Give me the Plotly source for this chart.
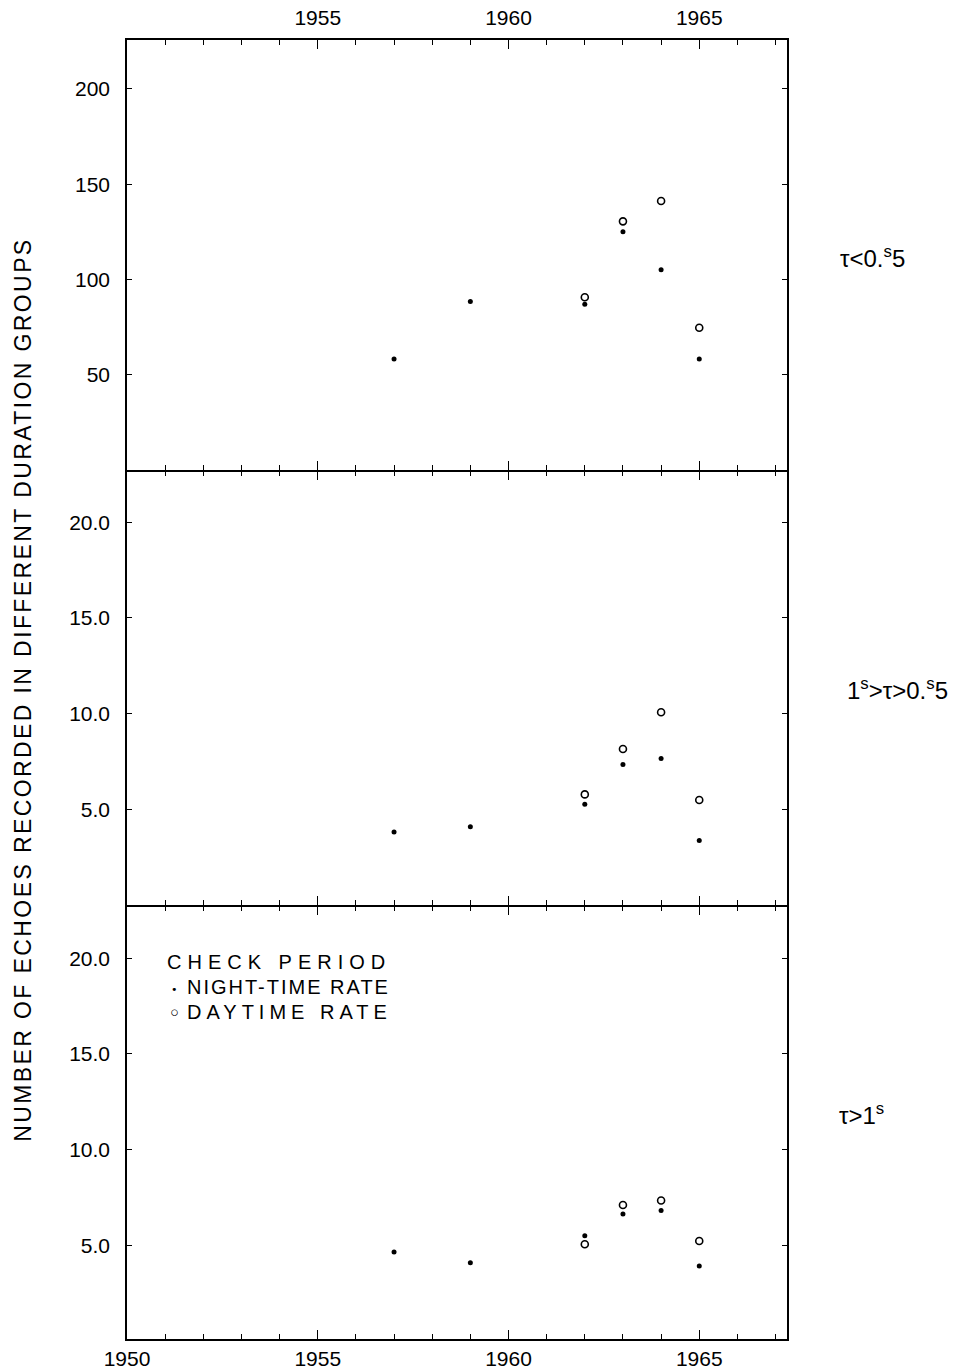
import plotly.graph_objects as go

# ---------------- data ----------------
night_years = [1957, 1959, 1962, 1963, 1964, 1965]
day_years = [1962, 1963, 1964, 1965]

short_night = [58.2, 88.4, 87.0, 125.1, 105.1, 58.2]      # tau < 0.5 s
short_day = [90.7, 130.5, 141.2, 74.7]
mid_night = [3.81, 4.09, 5.26, 7.34, 7.65, 3.37]          # 1 s > tau > 0.5 s
mid_day = [5.78, 8.15, 10.07, 5.49]
long_night = [4.65, 4.08, 5.50, 6.63, 6.81, 3.91]         # tau > 1 s
long_day = [5.05, 7.10, 7.34, 5.22]

year_major = [1950, 1955, 1960, 1965]
year_minor = [y for y in range(1951, 1968) if y % 5 != 0]
top_ticks = [50, 100, 150, 200]
top_tick_text = ["50", "100", "150", "200"]
low_ticks = [5, 10, 15, 20]
low_tick_text = ["5.0", "10.0", "15.0", "20.0"]

panel_labels = ["τ<0.<sup>s</sup>5", "1<sup>s</sup>>τ>0.<sup>s</sup>5", "τ>1<sup>s</sup>"]
y_title = "NUMBER OF ECHOES RECORDED IN DIFFERENT DURATION GROUPS"
legend_title = "CHECK PERIOD"
legend_night = "NIGHT-TIME RATE"
legend_day = "DAYTIME RATE"

# ---------------- layout geometry ----------------
W, H = 963, 1371
L, R, T, B = 127, 787, 40, 1339
PW, PH = R - L, B - T
LW = 1.5


def px(x):
    return (x - L) / PW


def py(y):
    return (B - y) / PH


FONT = "Liberation Sans, Arial, sans-serif"

fig = go.Figure()

panels = [
    (short_night, short_day, "x", "y"),
    (mid_night, mid_day, "x2", "y2"),
    (long_night, long_day, "x3", "y3"),
]
for nv, dv, xa, ya in panels:
    fig.add_trace(go.Scatter(x=night_years, y=nv, mode="markers", xaxis=xa, yaxis=ya,
                             marker=dict(symbol="circle", size=5, color="black"),
                             showlegend=False, name="Night-time rate"))
    fig.add_trace(go.Scatter(x=day_years, y=dv, mode="markers", xaxis=xa, yaxis=ya,
                             marker=dict(symbol="circle-open", size=7, color="black",
                                         line=dict(width=1.6, color="black")),
                             showlegend=False, name="Daytime rate"))

xrange_ = [1950, 1967.3]
tickfont = dict(family=FONT, size=21, color="black")


def xaxis(domain_anchor, side, labels, ticktext, standoff):
    return dict(
        range=xrange_, anchor=domain_anchor, side=side, domain=[0, 1],
        showline=True, linecolor="black", linewidth=LW, mirror="ticks",
        ticks="inside", ticklen=9, tickwidth=1.3, tickcolor="black",
        tickmode="array", tickvals=year_major, ticktext=ticktext,
        showticklabels=labels, tickfont=tickfont, ticklabelstandoff=standoff,
        minor=dict(tickmode="array", tickvals=year_minor, ticks="inside",
                   ticklen=5, tickwidth=1.2, tickcolor="black"),
        showgrid=False, zeroline=False, automargin=False,
    )


def yaxis(domain, rng, vals, text, anchor):
    return dict(
        domain=domain, range=rng, anchor=anchor,
        showline=True, linecolor="black", linewidth=LW, mirror="ticks",
        ticks="inside", ticklen=5, tickwidth=1.3, tickcolor="black",
        tickmode="array", tickvals=vals, ticktext=text,
        tickfont=tickfont, ticklabelstandoff=11,
        showgrid=False, zeroline=False, automargin=False,
    )


b1, b2 = 470, 905
fig.update_layout(
    width=W, height=H,
    margin=dict(l=L, r=W - R, t=T, b=H - B, pad=0, autoexpand=False),
    paper_bgcolor="white", plot_bgcolor="white",
    xaxis=xaxis("y", "top", True, ["", "1955", "1960", "1965"], 5),
    xaxis2=xaxis("y2", "bottom", False, ["1950", "1955", "1960", "1965"], 0),
    xaxis3=xaxis("y3", "bottom", True, ["1950", "1955", "1960", "1965"], 0),
    yaxis=yaxis([py(b1), 1], [0, 225.7], top_ticks, top_tick_text, "x"),
    yaxis2=yaxis([py(b2), py(b1 + LW)], [0, 22.65], low_ticks, low_tick_text, "x2"),
    yaxis3=yaxis([0, py(b2 + LW)], [0.1, 22.7], low_ticks, low_tick_text, "x3"),
    showlegend=False,
)

ann = []
# vertical axis title
ann.append(dict(text=y_title, x=px(23), y=py(690), xref="paper", yref="paper",
                textangle=-90, showarrow=False, xanchor="center", yanchor="middle",
                font=dict(family=FONT, size=23, color="black")))
# panel labels on the right
for lab, (cx, cy) in zip(panel_labels, [(872, 257), (897, 689), (861, 1114)]):
    ann.append(dict(text=lab, x=px(cx), y=py(cy), xref="paper", yref="paper",
                    showarrow=False, xanchor="center", yanchor="middle",
                    font=dict(family=FONT, size=24, color="black")))
# legend block
lf = dict(family=FONT, size=20, color="black")
ann.append(dict(text=legend_title, x=px(165), y=py(962), xref="paper", yref="paper",
                showarrow=False, xanchor="left", yanchor="middle", align="left", font=lf))
ann.append(dict(text=legend_night, x=px(185), y=py(987), xref="paper", yref="paper",
                showarrow=False, xanchor="left", yanchor="middle", align="left", font=lf))
ann.append(dict(text=legend_day, x=px(185), y=py(1012), xref="paper", yref="paper",
                showarrow=False, xanchor="left", yanchor="middle", align="left", font=lf))
ann.append(dict(text="•", x=px(174), y=py(989), xref="paper", yref="paper",
                showarrow=False, xanchor="center", yanchor="middle",
                font=dict(family="DejaVu Sans", size=11, color="black")))
ann.append(dict(text="◦", x=px(174), y=py(1013), xref="paper", yref="paper",
                showarrow=False, xanchor="center", yanchor="middle",
                font=dict(family="DejaVu Sans", size=22, color="black")))
fig.update_layout(annotations=ann)

post = """
document.body.style.margin = '0';
document.body.style.padding = '0';
var gd = document.getElementById('{plot_id}');
function spacing(){
  gd.querySelectorAll('text.annotation-text').forEach(function(t){
    var s = t.textContent;
    if (s.indexOf('NUMBER') === 0) t.style.letterSpacing = '2.4px';
    else if (s.indexOf('CHECK') === 0) t.style.letterSpacing = '6px';
    else if (s.indexOf('NIGHT') === 0) t.style.letterSpacing = '2px';
    else if (s.indexOf('DAYTIME') === 0) t.style.letterSpacing = '5px';
  });
}
spacing();
gd.on('plotly_afterplot', spacing);
"""

fig.write_html("out.html", post_script=post, config={"displayModeBar": False})
